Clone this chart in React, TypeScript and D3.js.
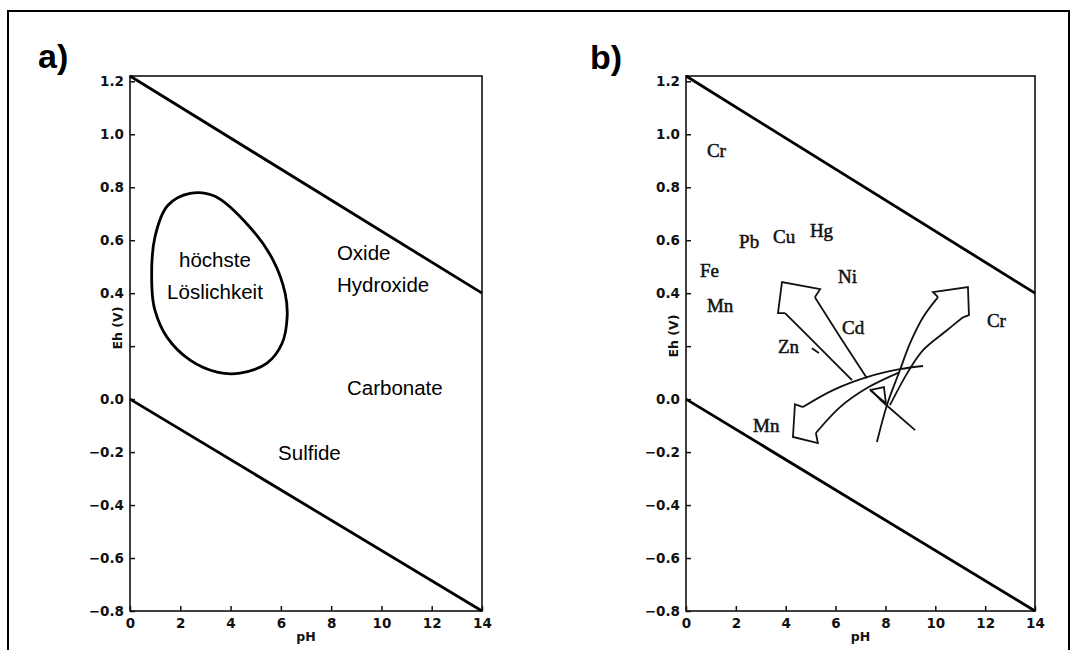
import React, { useEffect, useRef } from "react";
import * as d3 from "d3";

const W = 1077;
const H = 650;

// Axis domains and ticks
const phDomain: [number, number] = [0, 14];
const ehDomain: [number, number] = [-0.8, 1.22];
const phTicks = [0, 2, 4, 6, 8, 10, 12, 14];
const ehTicks = [-0.8, -0.6, -0.4, -0.2, 0.0, 0.2, 0.4, 0.6, 0.8, 1.0, 1.2];
// the 0.2 position is taken by the axis title
const ehTickLabelSkip = [0.2];

// Stability limits of water (pH, Eh in V)
const upperLimit: [number, number][] = [[0, 1.22], [14, 0.4]];
const lowerLimit: [number, number][] = [[0, 0.0], [14, -0.8]];

// Region of highest solubility (closed loop, pH / Eh)
const solubilityLoop: [number, number][] = [
  [0.87, 0.423], [0.99, 0.611], [1.51, 0.732], [2.39, 0.777], [3.38, 0.766],
  [4.77, 0.649], [5.69, 0.525], [6.17, 0.4], [6.25, 0.31], [6.05, 0.211],
  [5.45, 0.136], [4.38, 0.098], [3.46, 0.102], [2.39, 0.147], [1.47, 0.234],
  [0.99, 0.336],
];

// Panel a region names
const regionNames = ["höchste", "Löslichkeit", "Oxide", "Hydroxide", "Carbonate", "Sulfide"];
const regionPH = [3.38, 3.38, 8.23, 8.23, 8.63, 5.89];
const regionEh = [0.498, 0.377, 0.525, 0.404, 0.015, -0.23];
const regionAnchor = ["middle", "middle", "start", "start", "start", "start"];

// Panel b element labels
const metalNames = ["Cr", "Pb", "Cu", "Hg", "Fe", "Mn", "Ni", "Cd", "Zn", "Mn", "Cr"];
const metalPH = [0.84, 2.13, 3.49, 4.97, 0.56, 0.84, 6.1, 6.26, 3.69, 2.69, 12.07];
const metalEh = [0.913, 0.57, 0.589, 0.611, 0.46, 0.328, 0.438, 0.245, 0.174, -0.125, 0.272];

// Mobilisation arrows of panel b, each as left edge, head, right edge (pH, Eh)
const znCdLeft: [number, number][] = [[6.66, 0.072], [5.3, 0.2], [3.97, 0.325]];
const znCdHead: [number, number][] = [[3.97, 0.325], [3.69, 0.325], [3.85, 0.442], [5.38, 0.415], [5.17, 0.385]];
const znCdRight: [number, number][] = [[5.17, 0.385], [6.2, 0.232], [7.26, 0.079]];
const cdTail: [number, number][] = [[7.38, 0.038], [7.86, -0.008], [9.19, -0.117]];
const tailNotch: [number, number][] = [[7.38, 0.034], [7.94, 0.045], [8.02, -0.015], [7.38, 0.034]];
const znBarb: [number, number][] = [[5.05, 0.192], [5.33, 0.174]];

const crLeft: [number, number][] = [[7.66, -0.162], [8.06, -0.023], [8.58, 0.109], [8.99, 0.211], [9.51, 0.309], [10.11, 0.385]];
const crHead: [number, number][] = [[10.11, 0.385], [9.91, 0.404], [11.31, 0.423], [11.35, 0.317], [11.11, 0.309]];
const crRight: [number, number][] = [[11.11, 0.309], [10.47, 0.26], [9.51, 0.185], [8.9, 0.102], [8.18, -0.023]];

const mnTop: [number, number][] = [[9.51, 0.125], [8.58, 0.113], [7.26, 0.083], [5.9, 0.034], [4.69, -0.03]];
const mnHead: [number, number][] = [[4.69, -0.03], [4.37, -0.019], [4.29, -0.143], [5.29, -0.166], [5.21, -0.128]];
const mnBottom: [number, number][] = [[5.21, -0.128], [6.18, -0.03], [7.26, 0.042], [8.58, 0.102]];

const TICK_FONT = "'DejaVu Sans', Arial, sans-serif";

function Axes({ x, y }: { x: d3.ScaleLinear<number, number>; y: d3.ScaleLinear<number, number> }) {
  const leftRef = useRef<SVGGElement>(null);
  const bottomRef = useRef<SVGGElement>(null);
  useEffect(() => {
    const fmt = d3.format(".1f");
    const gl = d3.select(leftRef.current!);
    gl.call(
      d3
        .axisLeft(y)
        .tickValues(ehTicks)
        .tickFormat((d: any) => (ehTickLabelSkip.some((s) => Math.abs(s - d) < 1e-9) ? "" : fmt(d)))
        .tickSize(-5)
        .tickSizeOuter(0)
        .tickPadding(6) as any
    );
    const gb = d3.select(bottomRef.current!);
    gb.call(
      d3.axisBottom(x).tickValues(phTicks).tickFormat(d3.format("d")).tickSize(-5).tickSizeOuter(0).tickPadding(7) as any
    );
    [gl, gb].forEach((g) => {
      g.select(".domain").remove();
      g.attr("font-family", TICK_FONT).attr("font-size", 13.5).attr("font-weight", "bold");
      g.selectAll("line").attr("stroke", "#111").attr("stroke-width", 1.5);
      g.selectAll("text").attr("fill", "#111");
    });
  }, [x, y]);
  return (
    <g>
      <g ref={leftRef} transform={`translate(${x.range()[0]},0)`} />
      <g ref={bottomRef} transform={`translate(0,${y.range()[0]})`} />
    </g>
  );
}

function Frame({
  x,
  y,
  label,
  labelX,
  labelY,
}: {
  x: d3.ScaleLinear<number, number>;
  y: d3.ScaleLinear<number, number>;
  label: string;
  labelX: number;
  labelY: number;
}) {
  const line = d3.line<[number, number]>().x((d) => x(d[0])).y((d) => y(d[1]));
  const [x0, x1] = x.range();
  const [y0, y1] = y.range();
  return (
    <g>
      <rect x={x0} y={y1} width={x1 - x0} height={y0 - y1} fill="none" stroke="#111" strokeWidth={1.6} />
      <Axes x={x} y={y} />
      <path d={line(upperLimit)!} fill="none" stroke="#000" strokeWidth={2.8} />
      <path d={line(lowerLimit)!} fill="none" stroke="#000" strokeWidth={2.8} />
      <text
        transform={`translate(${labelX},${labelY}) rotate(-90)`}
        textAnchor="middle"
        fontFamily={TICK_FONT}
        fontWeight="bold"
        fontSize={12.5}
        fill="#111"
      >
        Eh (V)
      </text>
      <text x={(x0 + x1) / 2} y={641} textAnchor="middle" fontFamily={TICK_FONT} fontWeight="bold" fontSize={12.5} fill="#111">
        {label}
      </text>
    </g>
  );
}

export default function App() {
  const y = d3.scaleLinear().domain(ehDomain).range([611, 76]);
  const xa = d3.scaleLinear().domain(phDomain).range([130, 482]);
  const xb = d3.scaleLinear().domain(phDomain).range([686, 1035]);

  const loop = d3
    .line<[number, number]>()
    .x((d) => xa(d[0]))
    .y((d) => y(d[1]))
    .curve(d3.curveCatmullRomClosed.alpha(0.5));

  const straight = d3.line<[number, number]>().x((d) => xb(d[0])).y((d) => y(d[1]));
  const curved = d3
    .line<[number, number]>()
    .x((d) => xb(d[0]))
    .y((d) => y(d[1]))
    .curve(d3.curveCatmullRom.alpha(0.5));

  const arrowStroke = { fill: "none", stroke: "#111", strokeWidth: 1.8, strokeLinejoin: "miter" as const };

  return (
    <svg width={W} height={H} style={{ position: "absolute", left: 0, top: 0, background: "#fff" }}>
      <rect x={0} y={0} width={W} height={H} fill="#fff" />
      <rect x={8} y={11} width={1061} height={660} fill="none" stroke="#000" strokeWidth={2} />

      {/* panel a */}
      <text x={38} y={68} fontFamily="Arial, 'Liberation Sans', sans-serif" fontWeight="bold" fontSize={34} fill="#000">
        a)
      </text>
      <Frame x={xa} y={y} label="pH" labelX={122} labelY={328} />
      <path d={loop(solubilityLoop)!} fill="none" stroke="#000" strokeWidth={2.8} />
      {regionNames.map((t, i) => (
        <text
          key={`r${i}`}
          x={xa(regionPH[i])}
          y={y(regionEh[i])}
          textAnchor={regionAnchor[i] as any}
          fontFamily="Arial, 'Liberation Sans', sans-serif"
          fontSize={20.5}
          fill="#000"
        >
          {t}
        </text>
      ))}

      {/* panel b */}
      <text x={590} y={69} fontFamily="Arial, 'Liberation Sans', sans-serif" fontWeight="bold" fontSize={34} fill="#000">
        b)
      </text>
      <Frame x={xb} y={y} label="pH" labelX={678} labelY={336} />
      {metalNames.map((t, i) => (
        <text
          key={`m${i}`}
          x={xb(metalPH[i])}
          y={y(metalEh[i])}
          fontFamily="'Liberation Serif', 'DejaVu Serif', serif"
          fontSize={19}
          fill="#111"
          stroke="#111"
          strokeWidth={0.5}
        >
          {t}
        </text>
      ))}

      <path d={curved(znCdLeft)!} {...arrowStroke} />
      <path d={straight(znCdHead)!} {...arrowStroke} />
      <path d={curved(znCdRight)!} {...arrowStroke} />
      <path d={straight(cdTail)!} {...arrowStroke} />
      <path d={straight(tailNotch)!} {...arrowStroke} />
      <path d={straight(znBarb)!} {...arrowStroke} />

      <path d={curved(crLeft)!} {...arrowStroke} />
      <path d={straight(crHead)!} {...arrowStroke} />
      <path d={curved(crRight)!} {...arrowStroke} />

      <path d={curved(mnTop)!} {...arrowStroke} />
      <path d={straight(mnHead)!} {...arrowStroke} />
      <path d={curved(mnBottom)!} {...arrowStroke} />
    </svg>
  );
}
